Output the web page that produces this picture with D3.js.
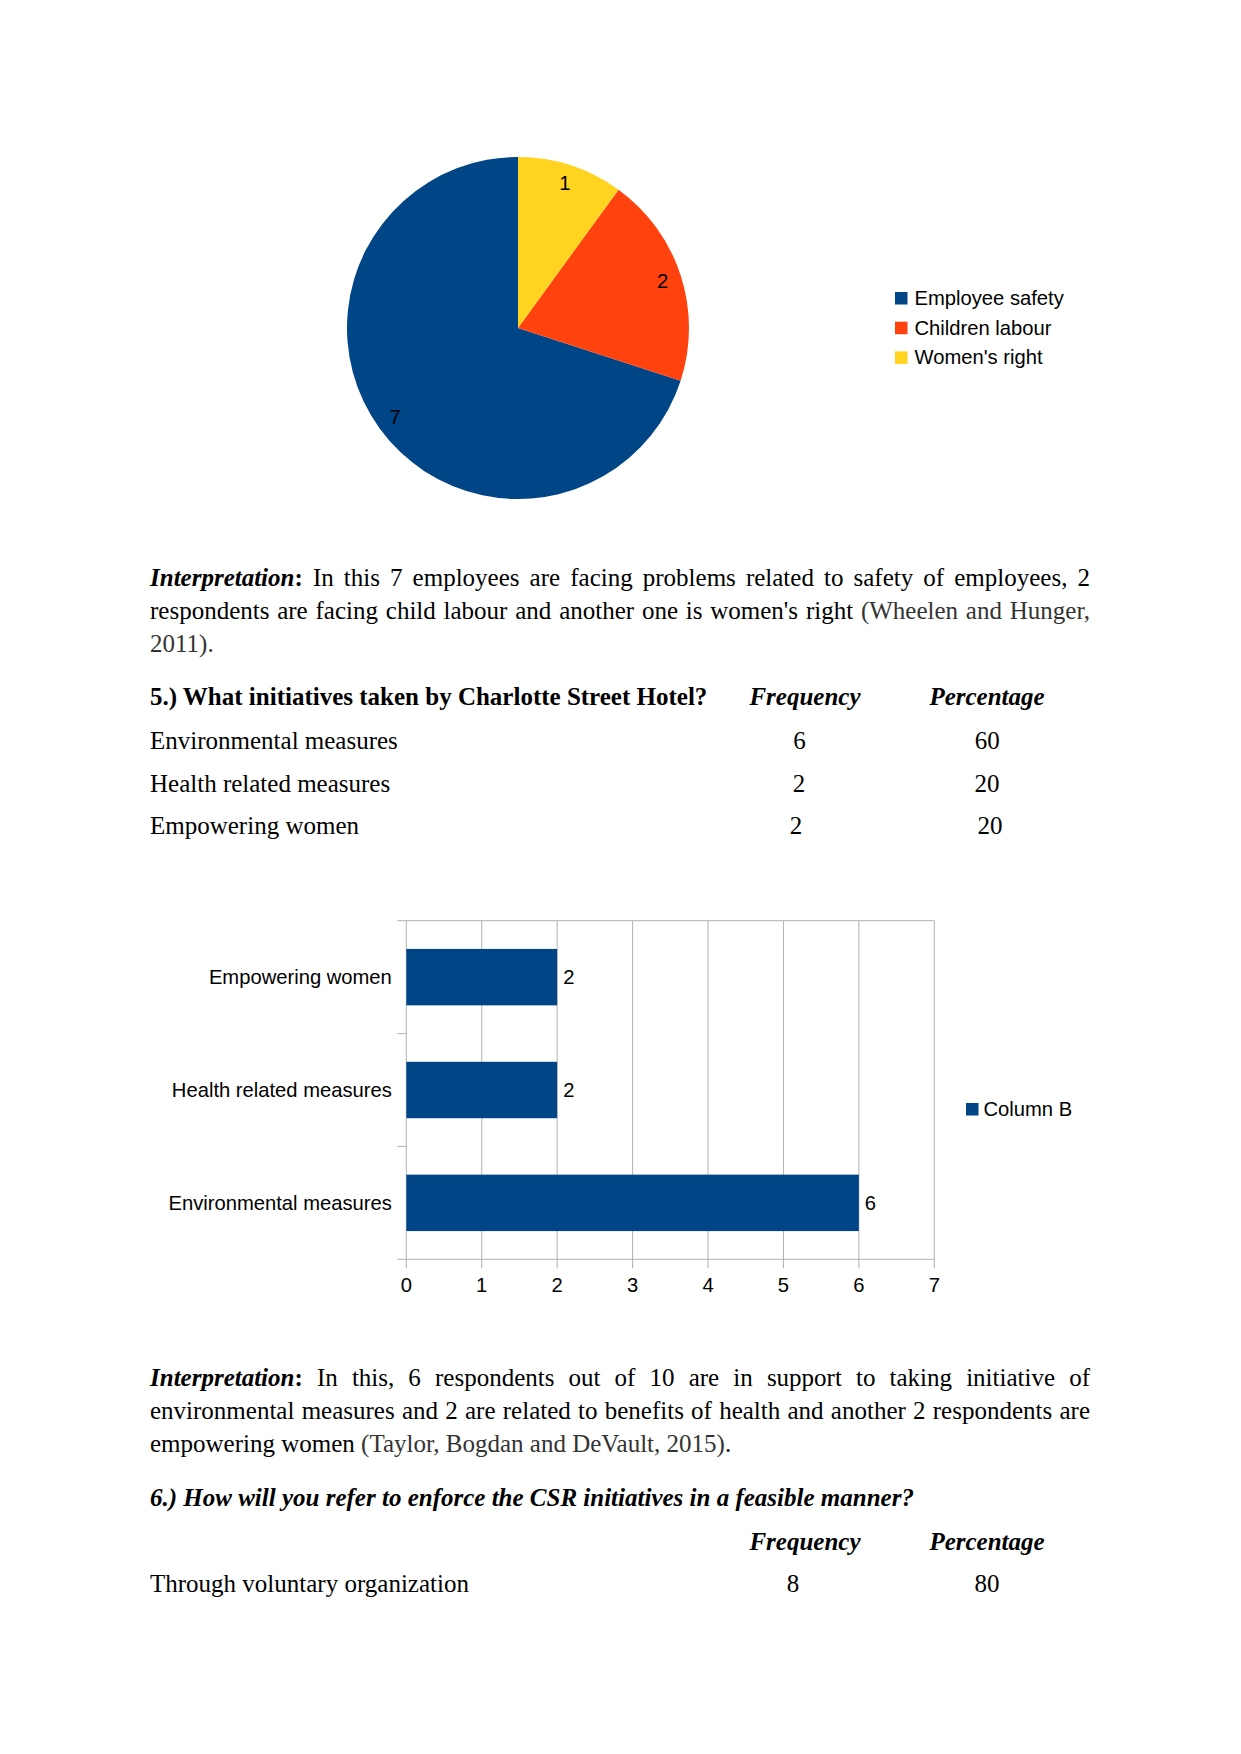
<!DOCTYPE html>
<html>
<head>
<meta charset="utf-8">
<script src="https://cdn.jsdelivr.net/npm/d3@7"></script>
<style>
  html, body { margin: 0; padding: 0; background: #fff; }
  svg { display: block; }
  .serif { font-family: "Liberation Serif", "Times New Roman", serif; font-size: 25px; fill: #000; }
  .sans { font-family: "Liberation Sans", Arial, sans-serif; font-size: 20.2px; fill: #000; }
  .b { font-weight: bold; }
  .bi { font-weight: bold; font-style: italic; }
  .g { fill: #333333; }
</style>
</head>
<body>
<script>
// ---------- Data ----------
const pieCategories = ["Employee safety", "Children labour", "Women's right"];
const pieValues = [7, 2, 1];
const pieColors = ["#004586", "#ff420e", "#ffd320"];

const barCategories = ["Environmental measures", "Health related measures", "Empowering women"];
const barValues = [6, 2, 2];
const barSeriesName = "Column B";
const xTickValues = [0, 1, 2, 3, 4, 5, 6, 7];

const q5Title = "5.) What initiatives taken by Charlotte Street Hotel?";
const q5Labels = ["Environmental measures", "Health related measures", "Empowering women"];
const q5Freq = ["6", "2", "2"];
const q5Pct = ["60", "20", "20"];

const q6Title = "6.) How will you refer to enforce the CSR initiatives in a feasible manner?";
const q6Labels = ["Through voluntary organization"];
const q6Freq = ["8"];
const q6Pct = ["80"];

const colHeaders = ["Frequency", "Percentage"];

// ---------- Layout ----------
const W = 1241, H = 1754;
const svg = d3.select("body").append("svg").attr("width", W).attr("height", H);

// ---------- Pie ----------
const pcx = 518, pcy = 328, pr = 171;
const pie = d3.pie().sort(null).startAngle(0).endAngle(-2 * Math.PI);
const arcs = pie(pieValues);
const arc = d3.arc().innerRadius(0).outerRadius(pr);
const labelArc = d3.arc().innerRadius(152).outerRadius(152);
const gp = svg.append("g").attr("transform", `translate(${pcx},${pcy})`);
gp.selectAll("path").data(arcs).join("path")
  .attr("d", arc).attr("fill", (d, i) => pieColors[i]);
gp.selectAll("text").data(arcs).join("text")
  .attr("class", "sans")
  .attr("transform", d => `translate(${labelArc.centroid(d)})`)
  .attr("text-anchor", "middle").attr("dominant-baseline", "central")
  .text(d => d.data);

const gl = svg.append("g").attr("transform", "translate(895,298)");
pieCategories.forEach((c, i) => {
  const row = gl.append("g").attr("transform", `translate(0,${i * 29.7})`);
  row.append("rect").attr("x", 0).attr("y", -6).attr("width", 12.5).attr("height", 12.5).attr("fill", pieColors[i]);
  row.append("text").attr("class", "sans").attr("x", 19.5).attr("y", 0)
    .attr("dominant-baseline", "central").text(c);
});

// ---------- Bar chart ----------
const x0 = 406.3, x1 = 934.3, yTop = 920.7, yBot = 1259.3;
const x = d3.scaleLinear().domain([0, 7]).range([x0, x1]);
const y = d3.scaleBand().domain(barCategories.slice().reverse()).range([yTop, yBot])
  .paddingInner(0.5).paddingOuter(0.25);
const grid = "#b3b3b3";
const gb = svg.append("g");

gb.selectAll("line.grid").data(xTickValues).join("line")
  .attr("x1", d => x(d)).attr("x2", d => x(d))
  .attr("y1", yTop).attr("y2", yBot + 9)
  .attr("stroke", grid).attr("stroke-width", 1);
[yTop, yBot].forEach(yy => gb.append("line")
  .attr("x1", x0 - 9).attr("x2", x1).attr("y1", yy).attr("y2", yy)
  .attr("stroke", grid).attr("stroke-width", 1));
[1, 2].forEach(k => gb.append("line")
  .attr("x1", x0 - 9).attr("x2", x0).attr("y1", yTop + k * (yBot - yTop) / 3).attr("y2", yTop + k * (yBot - yTop) / 3)
  .attr("stroke", grid).attr("stroke-width", 1));

gb.selectAll("rect.bar").data(barCategories).join("rect")
  .attr("x", x(0)).attr("y", d => y(d))
  .attr("width", (d, i) => x(barValues[i]) - x(0))
  .attr("height", y.bandwidth()).attr("fill", "#004586");

gb.selectAll("text.val").data(barCategories).join("text")
  .attr("class", "sans")
  .attr("x", (d, i) => x(barValues[i]) + 6)
  .attr("y", d => y(d) + y.bandwidth() / 2)
  .attr("dominant-baseline", "central")
  .text((d, i) => barValues[i]);

gb.selectAll("text.cat").data(barCategories).join("text")
  .attr("class", "sans")
  .attr("x", x0 - 14.5)
  .attr("y", d => y(d) + y.bandwidth() / 2)
  .attr("text-anchor", "end").attr("dominant-baseline", "central")
  .text(d => d);

gb.selectAll("text.xt").data(xTickValues).join("text")
  .attr("class", "sans")
  .attr("x", d => x(d)).attr("y", 1292)
  .attr("text-anchor", "middle")
  .text(d => d);

const lg = svg.append("g").attr("transform", "translate(966,1109)");
lg.append("rect").attr("x", 0).attr("y", -6).attr("width", 12.5).attr("height", 12.5).attr("fill", "#004586");
lg.append("text").attr("class", "sans").attr("x", 17.5).attr("y", 0).attr("dominant-baseline", "central").text(barSeriesName);

// ---------- Text ----------
const gt = svg.append("g");
const TX = 150, TW = 940;

function drawLine(segments, xs, yb, width, justify) {
  if (!justify) {
    const t = gt.append("text").attr("class", "serif").attr("x", xs).attr("y", yb).attr("xml:space", "preserve");
    segments.forEach(s => t.append("tspan").attr("class", s.cls || null).text(s.text));
    return;
  }
  const words = []; let cur = [];
  segments.forEach(s => {
    const parts = s.text.split(" ");
    parts.forEach((p, i) => {
      if (i > 0) { if (cur.length) words.push(cur); cur = []; }
      if (p) cur.push({ text: p, cls: s.cls });
    });
  });
  if (cur.length) words.push(cur);
  const nodes = words.map(w => {
    const t = gt.append("text").attr("class", "serif").attr("y", yb);
    w.forEach(p => t.append("tspan").attr("class", p.cls || null).text(p.text));
    return t;
  });
  const widths = nodes.map(n => n.node().getComputedTextLength());
  const gap = (width - d3.sum(widths)) / (words.length - 1);
  let xx = xs;
  nodes.forEach((n, i) => { n.attr("x", xx); xx += widths[i] + gap; });
}

// Paragraph 1
drawLine([{ text: "Interpretation", cls: "bi" }, { text: ":", cls: "b" },
  { text: " In this 7 employees are facing problems related to safety of employees, 2" }], TX, 586, TW, true);
drawLine([{ text: "respondents are facing child labour and another one is women's right " },
  { text: "(Wheelen and Hunger,", cls: "g" }], TX, 618.5, TW, true);
drawLine([{ text: "2011).", cls: "g" }], TX, 651.5, TW, false);

// Q5 table
const q5FreqX = [799.5, 799, 796], q5PctX = [987.3, 987, 990];
gt.append("text").attr("class", "serif b").attr("x", TX).attr("y", 705).text(q5Title);
gt.append("text").attr("class", "serif bi").attr("x", 805).attr("y", 705).attr("text-anchor", "middle").text(colHeaders[0]);
gt.append("text").attr("class", "serif bi").attr("x", 987).attr("y", 705).attr("text-anchor", "middle").text(colHeaders[1]);
const q5Y = [749, 791.5, 834];
q5Labels.forEach((l, i) => {
  gt.append("text").attr("class", "serif").attr("x", TX).attr("y", q5Y[i]).text(l);
  gt.append("text").attr("class", "serif").attr("x", q5FreqX[i]).attr("y", q5Y[i]).attr("text-anchor", "middle").text(q5Freq[i]);
  gt.append("text").attr("class", "serif").attr("x", q5PctX[i]).attr("y", q5Y[i]).attr("text-anchor", "middle").text(q5Pct[i]);
});

// Paragraph 2
drawLine([{ text: "Interpretation", cls: "bi" }, { text: ":", cls: "b" },
  { text: " In this, 6 respondents out of 10 are in support to taking initiative of" }], TX, 1386, TW, true);
drawLine([{ text: "environmental measures and 2 are related to benefits of health and another 2 respondents are" }], TX, 1418.5, TW, true);
drawLine([{ text: "empowering women " }, { text: "(Taylor, Bogdan and DeVault, 2015)", cls: "g" }, { text: "." }], TX, 1451.5, TW, false);

// Q6
gt.append("text").attr("class", "serif bi").attr("x", TX).attr("y", 1506).text(q6Title);
gt.append("text").attr("class", "serif bi").attr("x", 805).attr("y", 1549.5).attr("text-anchor", "middle").text(colHeaders[0]);
gt.append("text").attr("class", "serif bi").attr("x", 987).attr("y", 1549.5).attr("text-anchor", "middle").text(colHeaders[1]);
q6Labels.forEach((l, i) => {
  gt.append("text").attr("class", "serif").attr("x", TX).attr("y", 1592).text(l);
  gt.append("text").attr("class", "serif").attr("x", 793).attr("y", 1592).attr("text-anchor", "middle").text(q6Freq[i]);
  gt.append("text").attr("class", "serif").attr("x", 987).attr("y", 1592).attr("text-anchor", "middle").text(q6Pct[i]);
});
</script>
</body>
</html>
